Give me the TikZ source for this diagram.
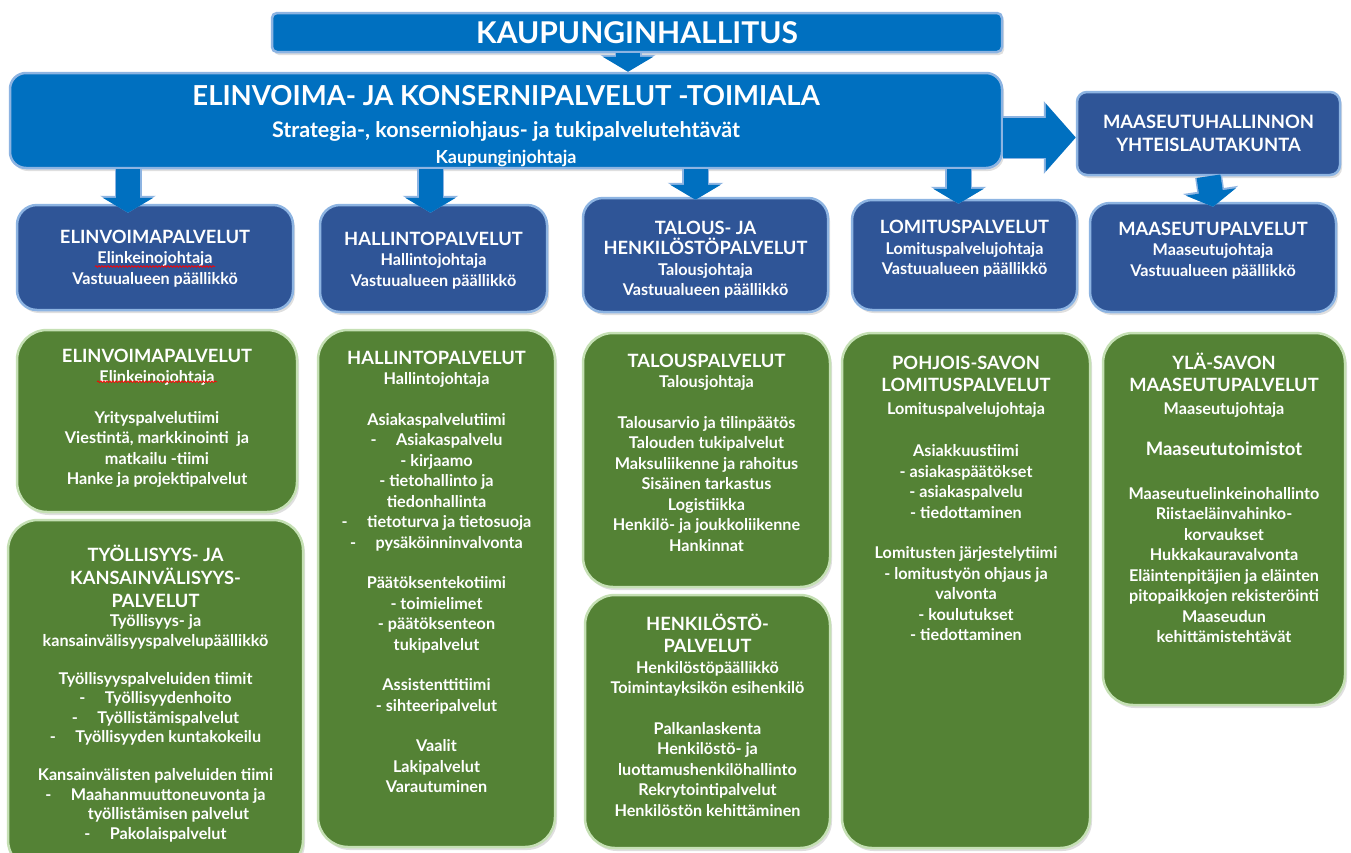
\documentclass[tikz,border=0pt]{standalone}
\usepackage{fontspec}
\setmainfont{Lato}
\usetikzlibrary{positioning,shadows,arrows.meta,decorations.pathmorphing}
\definecolor{topblue}{RGB}{0,112,192}
\definecolor{darkblue}{RGB}{47,85,151}
\definecolor{edgeblue}{RGB}{141,180,226}
\definecolor{leafgreen}{RGB}{84,130,53}
\definecolor{edgegreen}{RGB}{197,224,180}
\newcommand\boxtitle{\fontsize{18.3}{23}\selectfont}
\newcommand\gap{\\[20pt]}
\tikzset
{
  soft shadow/.style={drop shadow={opacity=0.25,shadow xshift=2pt,shadow yshift=-3pt}},
  top box/.style={fill=topblue,draw=edgeblue,line width=2.5pt,soft shadow},
  dark box/.style={fill=darkblue,draw=edgeblue,line width=2.5pt,rounded corners=20pt,soft shadow},
  green box/.style={fill=leafgreen,draw=edgegreen,line width=2.5pt,rounded corners=30pt,soft shadow},
  box text/.style={text=white,align=center,inner sep=0pt,font=\fontsize{16.2}{20.5}\selectfont\bfseries},
  block arrow/.style={draw=topblue,line width=24pt,-{Triangle[width=50pt,length=15pt]},
    preaction={draw=edgeblue,line width=27pt,-{Triangle[width=55pt,length=17pt]}}},
  spell mark/.style={red,line width=0.7pt,decorate,decoration={snake,amplitude=0.9pt,segment length=3pt}}
}

\begin{document}
\begin{tikzpicture}[x=1pt,y=-1pt]
  \fill[white] (0,0) rectangle (1351,852);
  \clip (0,0) rectangle (1351,852);
  % top level
  \node[top box,rounded corners=5pt,minimum width=730,minimum height=39] (kh) at (637,32.5) {};
  \node[box text,font=\fontsize{30}{30}\selectfont\bfseries] (kht) at (kh.center) {KAUPUNGINHALLITUS};
  \node[top box,rounded corners=16pt,minimum width=992,minimum height=95] (main) at (506,120.5) {};
  \node[box text,font=\fontsize{21.5}{26}\selectfont\bfseries] (maint) at ([yshift=-6pt]main.center)
    {{\fontsize{27.5}{30}\selectfont ELINVOIMA- JA KONSERNIPALVELUT -TOIMIALA}\\[6pt]
     Strategia-, konserniohjaus- ja tukipalvelutehtävät\\
     {\fontsize{18}{20}\selectfont Kaupunginjohtaja}};
  \node[dark box,rounded corners=10pt,minimum width=263,minimum height=83] (lauta) at (1208.5,133.5) {};
  \node[box text,font=\fontsize{18.4}{23}\selectfont\bfseries] (lautat) at (lauta.center)
    {MAASEUTUHALLINNON\\YHTEISLAUTAKUNTA};

  % service areas
  \node[dark box,minimum width=276,minimum height=105] (elinB) at (155,257.5) {};
  \node[box text] (elinBt) at ([yshift=-1pt]elinB.center)
    {{\boxtitle ELINVOIMAPALVELUT}\\Elinkeinojohtaja\\Vastuualueen päällikkö};
  \node[dark box,minimum width=227,minimum height=107] (hallB) at (433.5,258.5) {};
  \node[box text] (hallBt) at ([yshift=-2pt]hallB.center)
    {{\boxtitle HALLINTOPALVELUT}\\Hallintojohtaja\\Vastuualueen päällikkö};
  \node[dark box,minimum width=245,minimum height=114] (talB) at (705.5,255) {};
  \node[box text] (talBt) at ([yshift=-4.5pt]talB.center)
    {{\boxtitle TALOUS- JA}\\{\boxtitle HENKILÖSTÖPALVELUT}\\Talousjohtaja\\Vastuualueen päällikkö};
  \node[dark box,minimum width=225,minimum height=110] (lomB) at (964.5,255) {};
  \node[box text] (lomBt) at ([yshift=6pt]lomB.center)
    {{\boxtitle LOMITUSPALVELUT}\\Lomituspalvelujohtaja\\Vastuualueen päällikkö};
  \node[dark box,minimum width=246,minimum height=109] (maaB) at (1213,257.5) {};
  \node[box text] (maaBt) at ([yshift=7pt]maaB.center)
    {{\boxtitle MAASEUTUPALVELUT}\\Maaseutujohtaja\\Vastuualueen päällikkö};
  \draw[spell mark] ([xshift=-60pt,yshift=-8pt]elinBt.center) -- ([xshift=60pt,yshift=-8pt]elinBt.center);

  % arrows
  \draw[block arrow] ([xshift=-9pt]kh.south) -- ([xshift=-9pt]kh.south |- main.north);
  \draw[block arrow] ([xshift=-27pt]elinB.north |- main.south) -- ([xshift=-27pt,yshift=-9pt]elinB.north);
  \draw[block arrow] ([xshift=-3pt]hallB.north |- main.south) -- ([xshift=-3pt,yshift=-9pt]hallB.north);
  \draw[block arrow] ([xshift=-10pt]talB.north |- main.south) -- ([xshift=-10pt,yshift=-3pt]talB.north);
  \draw[block arrow] ([xshift=-6pt]lomB.north |- main.south) -- ([xshift=-6pt,yshift=-5pt]lomB.north);
  \draw[block arrow] (lauta.south) -- ([yshift=-5pt]maaB.north);
  \draw[draw=topblue,line width=40pt,-{Triangle[width=66pt,length=30pt]},
    preaction={draw=edgeblue,line width=43pt,-{Triangle[width=71pt,length=32pt]}}]
    ([yshift=-4pt]lauta.west -| main.east) -- ([yshift=-4pt]lauta.west);

  % units
  \node[green box,minimum width=280,minimum height=182] (elinG) at (157,421) {};
  \node[box text,below=20pt of elinG.north] (elinGt)
    {{\boxtitle ELINVOIMAPALVELUT}\\Elinkeinojohtaja\gap
     Yrityspalvelutiimi\\Viestintä, markkinointi\ \ ja\\matkailu -tiimi\\Hanke ja projektipalvelut};
  \draw[spell mark] ([xshift=-60pt,yshift=-33pt]elinGt.north) -- ([xshift=60pt,yshift=-33pt]elinGt.north);

  \node[green box,minimum width=295,minimum height=350] (tyoG) at (155.5,695) {};
  \node[box text,font=\fontsize{16.2}{19.5}\selectfont\bfseries,below=26pt of tyoG.north] (tyoGt)
    {{\boxtitle TYÖLLISYYS- JA}\\[3.5pt]{\boxtitle KANSAINVÄLISYYS-}\\[3.5pt]{\boxtitle PALVELUT}\\
     Työllisyys- ja\\kansainvälisyyspalvelupäällikkö\\[18.5pt]
     Työllisyyspalveluiden tiimit\\
     -\hspace{1.2em}Työllisyydenhoito\\
     -\hspace{1.2em}Työllistämispalvelut\\
     -\hspace{1.2em}Työllisyyden kuntakokeilu\\[18.5pt]
     Kansainvälisten palveluiden tiimi\\
     -\hspace{1.2em}Maahanmuuttoneuvonta ja\\
     \hspace{1.6em}työllistämisen palvelut\\
     -\hspace{1.2em}Pakolaispalvelut};

  \node[green box,minimum width=237,minimum height=517] (hallG) at (436.5,588.5) {};
  \node[box text,below=22pt of hallG.north] (hallGt)
    {{\boxtitle HALLINTOPALVELUT}\\Hallintojohtaja\gap
     Asiakaspalvelutiimi\\
     -\hspace{1.2em}Asiakaspalvelu\\
     - kirjaamo\\
     - tietohallinto ja\\
     tiedonhallinta\\
     -\hspace{1.2em}tietoturva ja tietosuoja\\
     -\hspace{1.2em}pysäköinninvalvonta\gap
     Päätöksentekotiimi\\- toimielimet\\- päätöksenteon\\tukipalvelut\gap
     Assistenttitiimi\\- sihteeripalvelut\gap
     Vaalit\\Lakipalvelut\\Varautuminen};

  \node[green box,minimum width=247,minimum height=254] (talG) at (706.5,460) {};
  \node[box text,below=22pt of talG.north] (talGt)
    {{\boxtitle TALOUSPALVELUT}\\Talousjohtaja\gap
     Talousarvio ja tilinpäätös\\Talouden tukipalvelut\\Maksuliikenne ja rahoitus\\
     Sisäinen tarkastus\\Logistiikka\\Henkilö- ja joukkoliikenne\\Hankinnat};

  \node[green box,minimum width=245,minimum height=253] (henG) at (707.5,721.5) {};
  \node[box text,below=20pt of henG.north] (henGt)
    {{\boxtitle HENKILÖSTÖ-}\\[2pt]{\boxtitle PALVELUT}\\Henkilöstöpäällikkö\\Toimintayksikön esihenkilö\gap
     Palkanlaskenta\\Henkilöstö- ja\\luottamushenkilöhallinto\\Rekrytointipalvelut\\Henkilöstön kehittäminen};

  \node[green box,minimum width=248,minimum height=515] (pohG) at (966,590.5) {};
  \node[box text,below=24pt of pohG.north] (pohGt)
    {{\boxtitle POHJOIS-SAVON}\\[2pt]{\boxtitle LOMITUSPALVELUT}\\[2pt]Lomituspalvelujohtaja\\[22pt]
     Asiakkuustiimi\\- asiakaspäätökset\\- asiakaspalvelu\\- tiedottaminen\gap
     Lomitusten järjestelytiimi\\- lomitustyön ohjaus ja\\valvonta\\- koulutukset\\- tiedottaminen};

  \node[green box,minimum width=242,minimum height=372] (ylaG) at (1224,519) {};
  \node[box text,below=21pt of ylaG.north] (ylaGt)
    {{\boxtitle YLÄ-SAVON}\\[2pt]{\boxtitle MAASEUTUPALVELUT}\\[2pt]Maaseutujohtaja\\[21pt]
     {\fontsize{18.5}{20}\selectfont Maaseututoimistot}\\[23pt]
     Maaseutuelinkeinohallinto\\Riistaeläinvahinko-\\korvaukset\\Hukkakauravalvonta\\
     Eläintenpitäjien ja eläinten\\pitopaikkojen rekisteröinti\\Maaseudun\\kehittämistehtävät};
\end{tikzpicture}
\end{document}
